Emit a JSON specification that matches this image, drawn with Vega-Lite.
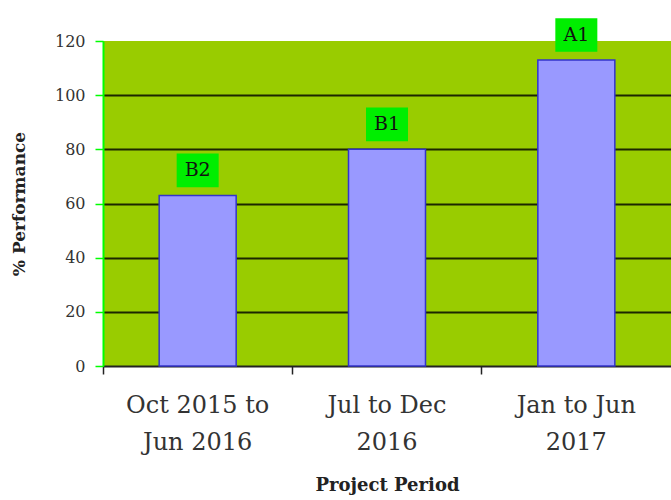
{
  "$schema": "https://vega.github.io/schema/vega-lite/v6.json",
  "autosize": {"type": "none"},
  "padding": {"left": 103, "top": 41, "right": 0, "bottom": 134},
  "width": 568,
  "height": 325,
  "background": "white",
  "view": {"fill": "#99cc00", "stroke": null},
  "data": {
    "values": [
      {"period": "Oct 2015 to|Jun 2016", "value": 63, "grade": "B2"},
      {"period": "Jul to Dec|2016", "value": 80, "grade": "B1"},
      {"period": "Jan to Jun|2017", "value": 113, "grade": "A1"}
    ]
  },
  "encoding": {
    "x": {
      "field": "period",
      "type": "nominal",
      "sort": null,
      "scale": {"paddingInner": 0, "paddingOuter": 0},
      "axis": {
        "title": "Project Period",
        "titleFont": "DejaVu Serif",
        "titleFontSize": 18,
        "titleFontWeight": "bold",
        "titleColor": "#222222",
        "titlePadding": 22,
        "labelExpr": "split(datum.label, '|')",
        "labelAngle": 0,
        "labelFont": "DejaVu Serif",
        "labelFontSize": 24,
        "labelColor": "#333333",
        "labelLineHeight": 37,
        "labelPadding": 19,
        "labelBaseline": "top",
        "bandPosition": 0,
        "ticks": true,
        "tickSize": 8,
        "tickColor": "#222222",
        "tickWidth": 1.5,
        "domainColor": "#222222",
        "domainWidth": 2,
        "grid": false
      }
    },
    "y": {
      "field": "value",
      "type": "quantitative",
      "scale": {"domain": [0, 120], "nice": false},
      "axis": {
        "title": "% Performance",
        "titleFont": "DejaVu Serif",
        "titleFontSize": 17,
        "titleFontWeight": "bold",
        "titleColor": "#222222",
        "titlePadding": 26,
        "values": [0, 20, 40, 60, 80, 100, 120],
        "labelFont": "DejaVu Serif",
        "labelFontSize": 16,
        "labelColor": "#333333",
        "labelPadding": 10,
        "tickColor": "#00ff00",
        "tickSize": 8,
        "tickWidth": 1.5,
        "domainColor": "#00ff00",
        "domainWidth": 2,
        "grid": true,
        "gridColor": {"condition": {"test": "datum.value === 120 || datum.value === 0", "value": "transparent"}, "value": "#1c2600"},
        "gridWidth": 2,
        "gridOpacity": 1
      }
    }
  },
  "layer": [
    {
      "mark": {"type": "bar", "size": 77, "color": "#9999ff", "stroke": "#3333cc", "strokeWidth": 1.5}
    },
    {
      "mark": {"type": "point", "shape": "M-1,-0.8H1V0.8H-1Z", "size": 1764, "filled": true, "color": "#00ee00", "opacity": 1, "strokeWidth": 0, "yOffset": -25},
      "encoding": {}
    },
    {
      "mark": {"type": "text", "font": "DejaVu Serif", "fontSize": 19, "color": "#111111", "baseline": "middle", "align": "center", "yOffset": -25},
      "encoding": {"text": {"field": "grade"}}
    }
  ]
}
